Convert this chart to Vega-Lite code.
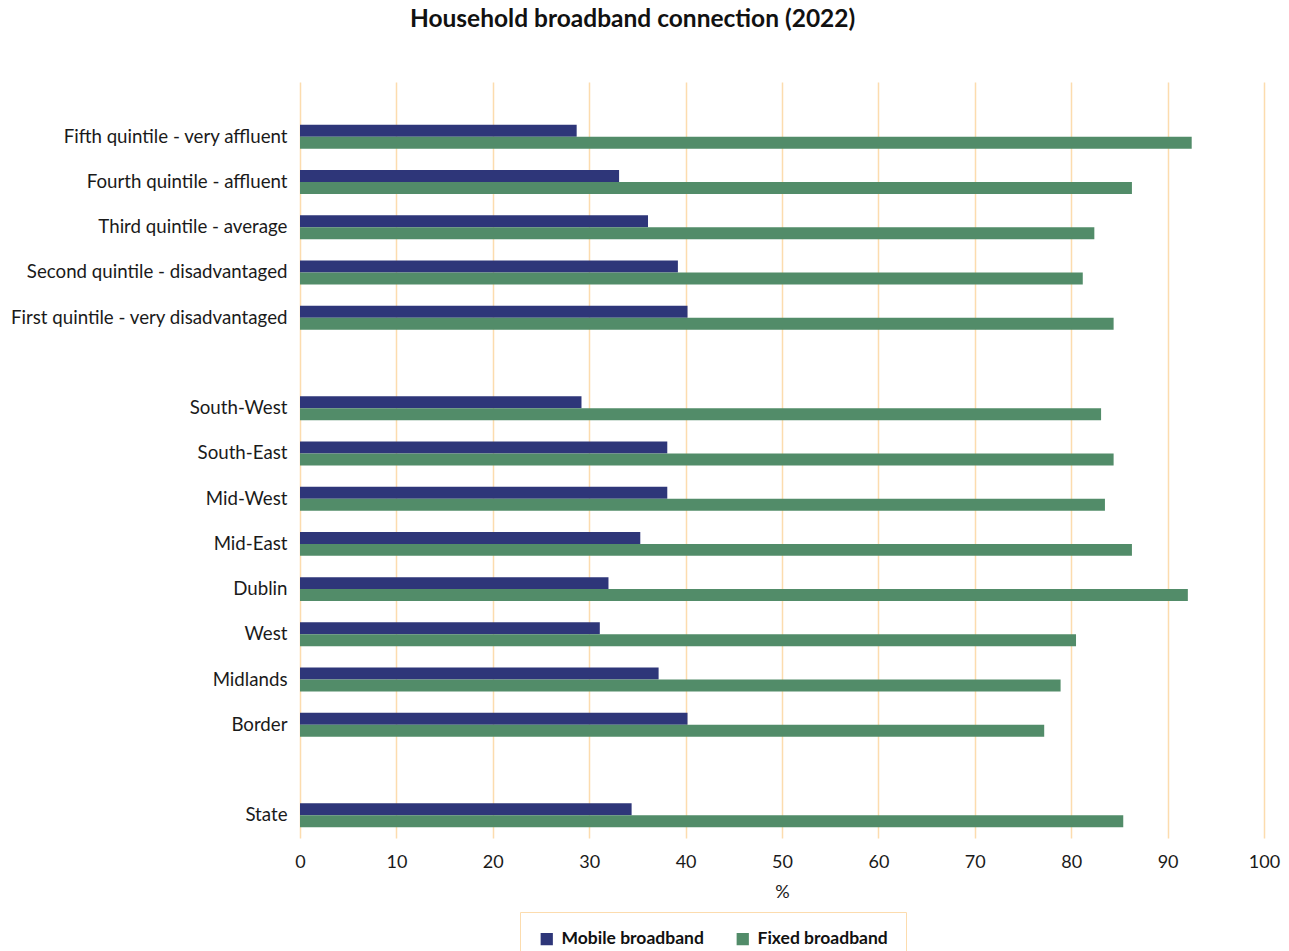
{
  "$schema": "https://vega.github.io/schema/vega-lite/v6.json",
  "autosize": {"type": "none"},
  "width": 964,
  "height": 756,
  "padding": {"left": 300, "top": 82, "right": 25, "bottom": 113},
  "background": "white",
  "title": {
    "text": "Household broadband connection (2022)",
    "font": "Lato",
    "fontSize": 24.5,
    "fontWeight": "bold",
    "color": "#111111",
    "anchor": "middle",
    "frame": "bounds",
    "offset": 50,
    "dx": -12
  },
  "data": {
    "values": [
      {"group": "Fifth quintile - very affluent", "type": "Mobile broadband", "pct": 28.7},
      {"group": "Fifth quintile - very affluent", "type": "Fixed broadband", "pct": 92.5},
      {"group": "Fourth quintile - affluent", "type": "Mobile broadband", "pct": 33.1},
      {"group": "Fourth quintile - affluent", "type": "Fixed broadband", "pct": 86.3},
      {"group": "Third quintile - average", "type": "Mobile broadband", "pct": 36.1},
      {"group": "Third quintile - average", "type": "Fixed broadband", "pct": 82.4},
      {"group": "Second quintile - disadvantaged", "type": "Mobile broadband", "pct": 39.2},
      {"group": "Second quintile - disadvantaged", "type": "Fixed broadband", "pct": 81.2},
      {"group": "First quintile - very disadvantaged", "type": "Mobile broadband", "pct": 40.2},
      {"group": "First quintile - very disadvantaged", "type": "Fixed broadband", "pct": 84.4},
      {"group": "South-West", "type": "Mobile broadband", "pct": 29.2},
      {"group": "South-West", "type": "Fixed broadband", "pct": 83.1},
      {"group": "South-East", "type": "Mobile broadband", "pct": 38.1},
      {"group": "South-East", "type": "Fixed broadband", "pct": 84.4},
      {"group": "Mid-West", "type": "Mobile broadband", "pct": 38.1},
      {"group": "Mid-West", "type": "Fixed broadband", "pct": 83.5},
      {"group": "Mid-East", "type": "Mobile broadband", "pct": 35.3},
      {"group": "Mid-East", "type": "Fixed broadband", "pct": 86.3},
      {"group": "Dublin", "type": "Mobile broadband", "pct": 32.0},
      {"group": "Dublin", "type": "Fixed broadband", "pct": 92.1},
      {"group": "West", "type": "Mobile broadband", "pct": 31.1},
      {"group": "West", "type": "Fixed broadband", "pct": 80.5},
      {"group": "Midlands", "type": "Mobile broadband", "pct": 37.2},
      {"group": "Midlands", "type": "Fixed broadband", "pct": 78.9},
      {"group": "Border", "type": "Mobile broadband", "pct": 40.2},
      {"group": "Border", "type": "Fixed broadband", "pct": 77.2},
      {"group": "State", "type": "Mobile broadband", "pct": 34.4},
      {"group": "State", "type": "Fixed broadband", "pct": 85.4}
    ]
  },
  "mark": {"type": "bar", "cornerRadius": 0},
  "encoding": {
    "y": {
      "field": "group",
      "type": "nominal",
      "scale": {
        "domain": [
          "Fifth quintile - very affluent",
          "Fourth quintile - affluent",
          "Third quintile - average",
          "Second quintile - disadvantaged",
          "First quintile - very disadvantaged",
          " ",
          "South-West",
          "South-East",
          "Mid-West",
          "Mid-East",
          "Dublin",
          "West",
          "Midlands",
          "Border",
          "  ",
          "State"
        ],
        "paddingInner": 0.47,
        "paddingOuter": 0.59,
        "align": 0.8
      },
      "axis": {
        "title": null,
        "domain": false,
        "ticks": false,
        "grid": false,
        "labelPadding": 13,
        "labelFont": "Lato",
        "labelFontSize": 18.7,
        "labelColor": "#1a1a1a",
        "labelLimit": 400
      }
    },
    "yOffset": {
      "field": "type",
      "type": "nominal",
      "scale": {"domain": ["Mobile broadband", "Fixed broadband"], "paddingInner": 0, "paddingOuter": 0}
    },
    "x": {
      "field": "pct",
      "type": "quantitative",
      "stack": null,
      "scale": {"domain": [0, 100], "nice": false},
      "axis": {
        "title": "%",
        "values": [0, 10, 20, 30, 40, 50, 60, 70, 80, 90, 100],
        "domain": false,
        "ticks": false,
        "grid": true,
        "gridColor": "#FCDCAE",
        "gridWidth": 1.5,
        "labelFlush": false,
        "labelPadding": 15,
        "labelFont": "Lato",
        "labelFontSize": 18,
        "labelColor": "#1a1a1a",
        "titleFont": "Lato",
        "titleFontSize": 18,
        "titleFontWeight": "normal",
        "titleColor": "#1a1a1a",
        "titlePadding": 12
      }
    },
    "color": {
      "field": "type",
      "type": "nominal",
      "scale": {"domain": ["Mobile broadband", "Fixed broadband"], "range": ["#2E3679", "#528C69"]},
      "legend": {
        "title": null,
        "orient": "none",
        "direction": "horizontal",
        "legendX": 220,
        "legendY": 830,
        "padding": 18,
        "strokeColor": "#FCDCAE",
        "fillColor": "white",
        "symbolType": "square",
        "symbolSize": 150,
        "symbolStrokeWidth": 0,
        "symbolOpacity": 1,
        "labelFont": "Lato",
        "labelFontSize": 17.5,
        "labelFontWeight": "bold",
        "labelColor": "#111111",
        "labelOffset": 6,
        "columnPadding": 30,
        "labelLimit": 300
      }
    }
  },
  "config": {
    "view": {"stroke": null}
  }
}
